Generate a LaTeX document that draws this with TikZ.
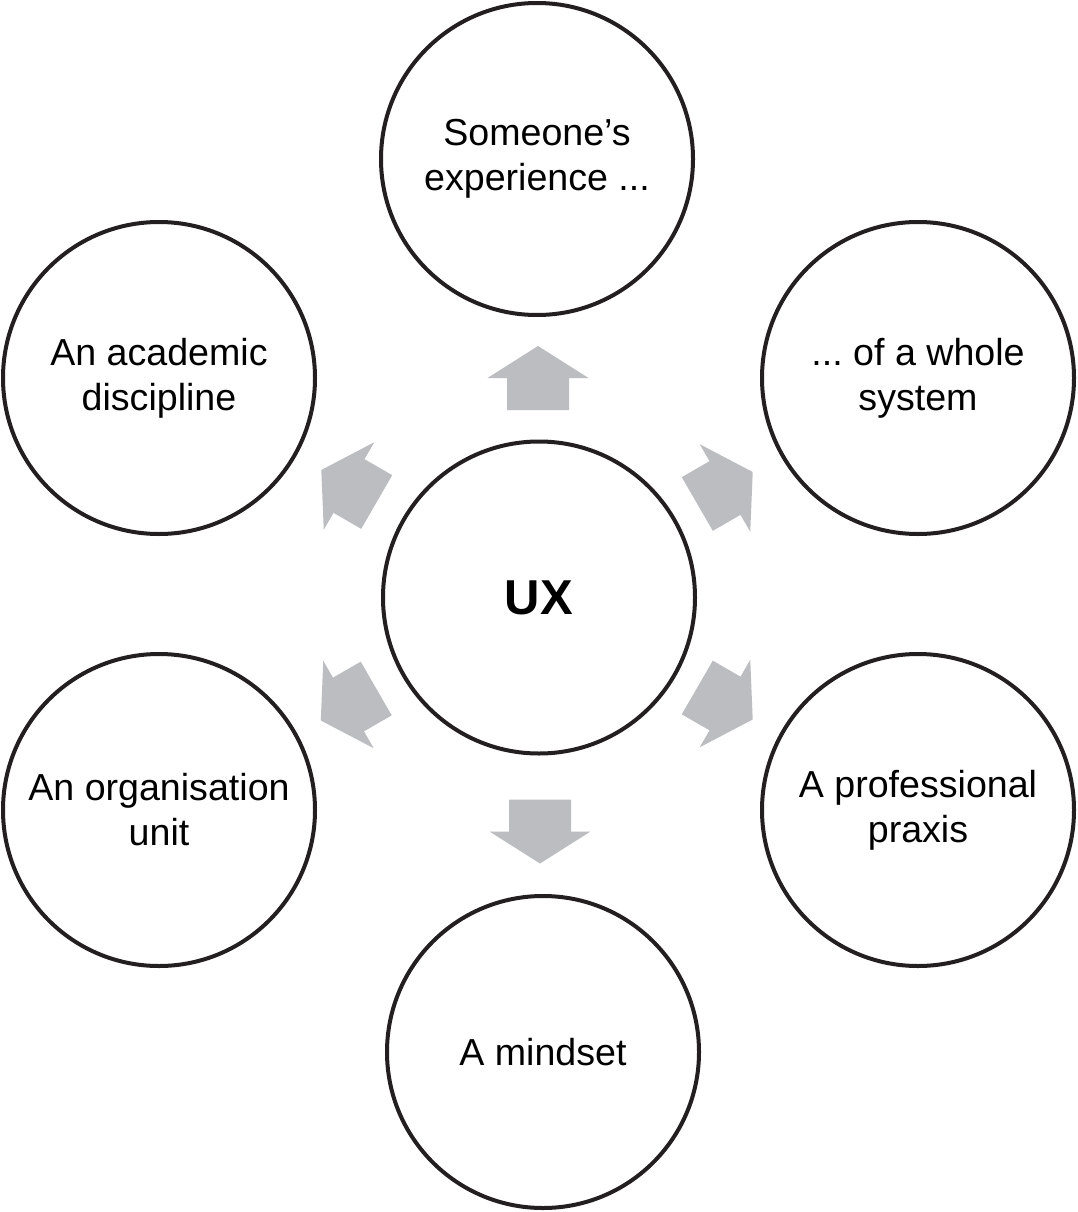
\documentclass[tikz,border=0pt]{standalone}
\usepackage{fontspec}
\setmainfont{Liberation Sans}
\frenchspacing
\definecolor{arrowgray}{HTML}{BCBDC0}
\definecolor{ringblack}{HTML}{231F20}
\begin{document}
\begin{tikzpicture}[x=1pt,y=-1pt,
  ring/.style={circle,draw=ringblack,line width=4pt,minimum size=312pt,inner sep=0pt,
    align=center,font=\fontsize{37.6}{45}\selectfont\frenchspacing},
  blockarrow/.style={fill=arrowgray,draw=none}]
\useasboundingbox (0,0) rectangle (1077,1212);
\fill[white] (0,0) rectangle (1077,1212);
\node[ring] (ux)  at (539,597.5) {\fontsize{49}{50}\selectfont\bfseries UX};
\node[ring] (top) at (537,159) {Someone’s\\experience ...};
\node[ring] (ul)  at (159,378) {An academic\\discipline};
\node[ring] (ur)  at (918,378) {... of a whole\\system};
\node[ring] (ll)  at (159,810) {An organisation\\unit};
\node[ring] (lr)  at (918,810) {A professional\\praxis};
\node[ring] (bot) at (543,1052) {A mindset};
\foreach \cx/\cy/\ang in {538/378/90, 540/831.5/-90, 349/486/150, 725/488/30, 725/703.5/-30, 348.5/704.5/-150}{
  \begin{scope}[shift={(\cx,\cy)},rotate=\ang]
    \fill[blockarrow] (32,0) -- (0,50.5) -- (0,31) -- (-32,31) -- (-32,-31) -- (0,-31) -- (0,-50.5) -- cycle;
  \end{scope}
}
\end{tikzpicture}
\end{document}
